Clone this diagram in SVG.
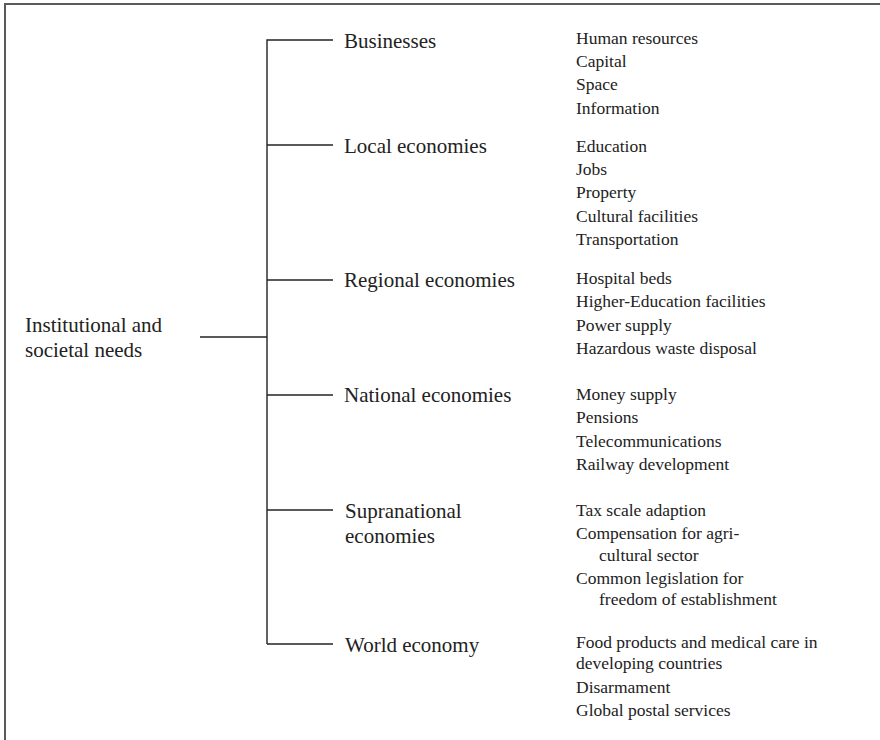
<svg xmlns="http://www.w3.org/2000/svg" width="880" height="740" viewBox="0 0 880 740">
<style>
.frame{fill:none;stroke:#5a5a5a;stroke-width:2}
.ln{fill:none;stroke:#222;stroke-width:1.4}
.lbl{font-family:"Liberation Serif","Times New Roman",serif;font-size:21px;fill:#222}
.it{font-family:"Liberation Serif","Times New Roman",serif;font-size:17.5px;fill:#222}
</style>
<rect width="880" height="740" fill="#fff"/>
<path class="frame" d="M5,740 V4 H880"/>
<g id="connectors">
<path class="ln" d="M200,337 H267"/>
<path class="ln" d="M267,644 V40 H333"/>
<path class="ln" d="M267,145 H333"/>
<path class="ln" d="M267,280 H333"/>
<path class="ln" d="M267,395 H333"/>
<path class="ln" d="M267,510 H333"/>
<path class="ln" d="M267,644 H333"/>
</g>
<g id="root">
<text class="lbl" x="25" y="332">Institutional and</text>
<text class="lbl" x="25" y="357">societal needs</text>
</g>
<g id="businesses">
<text class="lbl" x="344" y="48">Businesses</text>
<text class="it" x="576" y="44">Human resources</text>
<text class="it" x="576" y="67">Capital</text>
<text class="it" x="576" y="90">Space</text>
<text class="it" x="576" y="114">Information</text>
</g>
<g id="local">
<text class="lbl" x="344" y="153">Local economies</text>
<text class="it" x="576" y="152">Education</text>
<text class="it" x="576" y="175">Jobs</text>
<text class="it" x="576" y="198">Property</text>
<text class="it" x="576" y="222">Cultural facilities</text>
<text class="it" x="576" y="245">Transportation</text>
</g>
<g id="regional">
<text class="lbl" x="344" y="287">Regional economies</text>
<text class="it" x="576" y="284">Hospital beds</text>
<text class="it" x="576" y="307">Higher-Education facilities</text>
<text class="it" x="576" y="331">Power supply</text>
<text class="it" x="576" y="354">Hazardous waste disposal</text>
</g>
<g id="national">
<text class="lbl" x="344" y="402">National economies</text>
<text class="it" x="576" y="400">Money supply</text>
<text class="it" x="576" y="423">Pensions</text>
<text class="it" x="576" y="447">Telecommunications</text>
<text class="it" x="576" y="470">Railway development</text>
</g>
<g id="supranational">
<text class="lbl" x="345" y="518">Supranational</text>
<text class="lbl" x="345" y="543">economies</text>
<text class="it" x="576" y="516">Tax scale adaption</text>
<text class="it" x="576" y="539">Compensation for agri-</text>
<text class="it" x="599" y="561">cultural sector</text>
<text class="it" x="576" y="584">Common legislation for</text>
<text class="it" x="599" y="605">freedom of establishment</text>
</g>
<g id="world">
<text class="lbl" x="345" y="652">World economy</text>
<text class="it" x="576" y="648">Food products and medical care in</text>
<text class="it" x="576" y="669">developing countries</text>
<text class="it" x="576" y="693">Disarmament</text>
<text class="it" x="576" y="716">Global postal services</text>
</g>
</svg>
